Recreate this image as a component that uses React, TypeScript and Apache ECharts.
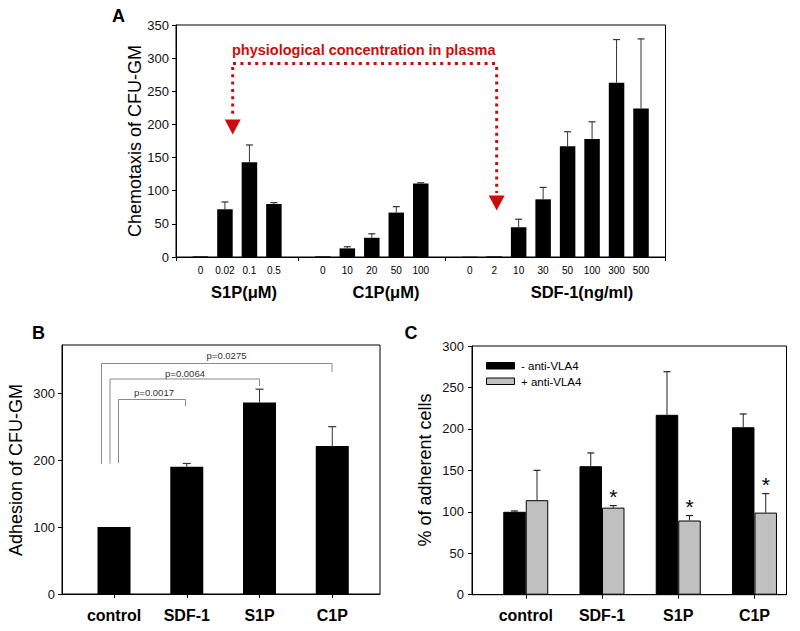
import React, { useEffect, useRef } from "react";
import * as echarts from "echarts";

// ---------- Panel A: chemotaxis ----------
const s1pLabels = ["0", "0.02", "0.1", "0.5"];
const s1pValues = [1, 72, 143, 80];
const s1pErrTop = [1, 83, 169, 82];
const c1pLabels = ["0", "10", "20", "50", "100"];
const c1pValues = [1, 13, 29, 67, 111];
const c1pErrTop = [1, 15.5, 35, 76, 112];
const sdfLabels = ["0", "2", "10", "30", "50", "100", "300", "500"];
const sdfValues = [0.5, 1, 45, 87, 167, 178, 263, 224];
const sdfErrTop = [0.5, 1, 57, 105, 189, 204, 328, 329];
const groupNames = ["S1P(\u03bcM)", "C1P(\u03bcM)", "SDF-1(ng/ml)"];
const chemoTicks = [0, 50, 100, 150, 200, 250, 300, 350];
const annotationText = "physiological concentration in plasma";

// ---------- Panel B: adhesion ----------
const adhesionCats = ["control", "SDF-1", "S1P", "C1P"];
const adhesionValues = [100, 190, 286, 221];
const adhesionErrTop = [100, 195, 306, 250];
const adhesionTicks = [0, 100, 200, 300];
const pLabels = ["p=0.0017", "p=0.0064", "p=0.0275"];

// ---------- Panel C: anti-VLA4 ----------
const vlaCats = ["control", "SDF-1", "S1P", "C1P"];
const minusVla = [100, 155, 217, 202];
const minusVlaErrTop = [101, 171, 269, 218];
const plusVla = [114, 105, 89.5, 99];
const plusVlaErrTop = [150, 107.5, 95.5, 122];
const plusVlaSig = [0, 1, 1, 1];
const vlaTicks = [0, 50, 100, 150, 200, 250, 300];
const legendNames = ["- anti-VLA4", "+ anti-VLA4"];

const FONT = "'Liberation Sans', Arial, Helvetica, sans-serif";
const RED = "#cc0c0c";

// build panel A positions (1-based slots with one empty slot between groups)
const groupsA = [
  { labels: s1pLabels, values: s1pValues, err: s1pErrTop },
  { labels: c1pLabels, values: c1pValues, err: c1pErrTop },
  { labels: sdfLabels, values: sdfValues, err: sdfErrTop },
];
const chemoRows: { pos: number; label: string; value: number; err: number }[] = [];
const gapTicks: number[] = [0];
let slot = 1;
groupsA.forEach((g, gi) => {
  g.labels.forEach((l, i) => {
    chemoRows.push({ pos: slot, label: l, value: g.values[i], err: g.err[i] });
    slot++;
  });
  if (gi < groupsA.length - 1) {
    gapTicks.push(slot);
    slot++;
  }
});
const lastSlot = slot; // right edge
gapTicks.push(lastSlot);
const chemoLabelMap: Record<number, string> = {};
chemoRows.forEach((r) => (chemoLabelMap[r.pos] = r.label));

function errorRenderer(offset: number, cap: number, color: string) {
  return (params: any, api: any) => {
    const x = api.value(0);
    const v = api.value(1);
    const e = api.value(2);
    const star = api.value(3);
    const base = api.coord([x, v]);
    const top = api.coord([x, e]);
    const cx = base[0] + offset;
    const children: any[] = [];
    if (e > v) {
      children.push({
        type: "line",
        shape: { x1: cx, y1: base[1], x2: cx, y2: top[1] },
        style: { stroke: color, lineWidth: 1 },
      });
      children.push({
        type: "line",
        shape: { x1: cx - cap / 2, y1: top[1], x2: cx + cap / 2, y2: top[1] },
        style: { stroke: color, lineWidth: 1.2 },
      });
    }
    if (star) {
      children.push({
        type: "text",
        x: cx,
        y: top[1] - 9,
        style: {
          text: "*",
          fontSize: 21,
          fontFamily: FONT,
          fill: "#000",
          align: "center",
          verticalAlign: "middle",
        },
      });
    }
    return { type: "group", children };
  };
}

const axisLineStyle = { lineStyle: { color: "#000", width: 1 } };
const tickStyle = { show: true, inside: false, length: 4, lineStyle: { color: "#000", width: 1 } };

function buildOption(): any {
  const posB = adhesionCats.map((_, i) => i + 1);
  const posC = vlaCats.map((_, i) => i + 1);

  // bracket geometry for panel B (annotation)
  const brackets = [
    { y: 399.5, x1: 118.5, x2: 185.5, yl: 463, yr: 406, lx: 154, ly: 392.5 },
    { y: 379, x1: 110, x2: 259.5, yl: 463.5, yr: 386, lx: 185, ly: 373 },
    { y: 363.5, x1: 101.5, x2: 332, yl: 464, yr: 372, lx: 226.5, ly: 355.5 },
  ];
  const bracketGraphics: any[] = [];
  brackets.forEach((b, i) => {
    bracketGraphics.push({
      type: "polyline",
      shape: { points: [[b.x1, b.yl], [b.x1, b.y], [b.x2, b.y], [b.x2, b.yr]] },
      style: { stroke: "#8a8a8a", lineWidth: 1, fill: null },
      silent: true,
    });
    bracketGraphics.push({
      type: "text",
      x: b.lx,
      y: b.ly,
      style: {
        text: pLabels[i],
        fontSize: 9.5,
        fontFamily: FONT,
        fill: "#333",
        align: "center",
        verticalAlign: "middle",
      },
    });
  });

  const txt = (text: string, x: number, y: number, size: number, bold: boolean, extra: any = {}) => ({
    type: "text",
    x,
    y,
    ...extra,
    style: {
      text,
      fontSize: size,
      fontWeight: bold ? "bold" : "normal",
      fontFamily: FONT,
      fill: extra.fill || "#000",
      align: "center",
      verticalAlign: "middle",
    },
  });

  const graphic: any[] = [
    txt("A", 118.5, 15.5, 18, true),
    txt("B", 38.5, 333, 18, true),
    txt("C", 411, 333, 18, true),
    txt("Chemotaxis of CFU-GM", 135, 141, 18, false, { rotation: Math.PI / 2 }),
    txt("Adhesion of CFU-GM", 15.5, 470, 18, false, { rotation: Math.PI / 2 }),
    txt("% of adherent cells", 425, 470, 18, false, { rotation: Math.PI / 2 }),
    txt(groupNames[0], 244, 291.5, 16.5, true),
    txt(groupNames[1], 386, 291.5, 16.5, true),
    txt(groupNames[2], 582, 291.5, 16.5, true),
    // red annotation
    {
      type: "text",
      x: 232,
      y: 50,
      style: {
        text: annotationText,
        fontSize: 14.5,
        fontWeight: "bold",
        fontFamily: FONT,
        fill: RED,
        align: "left",
        verticalAlign: "middle",
      },
    },
    {
      type: "line",
      shape: { x1: 233, y1: 63.5, x2: 498, y2: 63.5 },
      style: { stroke: RED, lineWidth: 3, lineDash: [3, 4.4] },
    },
    {
      type: "line",
      shape: { x1: 232.7, y1: 67, x2: 232.7, y2: 117 },
      style: { stroke: RED, lineWidth: 3, lineDash: [3, 4.3] },
    },
    {
      type: "line",
      shape: { x1: 496.7, y1: 67, x2: 496.7, y2: 193 },
      style: { stroke: RED, lineWidth: 3, lineDash: [3, 4.3] },
    },
    {
      type: "polygon",
      shape: { points: [[224.7, 119.5], [240.7, 119.5], [232.7, 134.5]] },
      style: { fill: RED },
    },
    {
      type: "polygon",
      shape: { points: [[488.7, 195.5], [504.7, 195.5], [496.7, 210.5]] },
      style: { fill: RED },
    },
    // legend panel C
    {
      type: "rect",
      shape: { x: 486.5, y: 362.5, width: 28, height: 6.5 },
      style: { fill: "#000", stroke: "#000", lineWidth: 1 },
    },
    {
      type: "rect",
      shape: { x: 486.5, y: 378, width: 28, height: 6.5 },
      style: { fill: "#c0c0c0", stroke: "#000", lineWidth: 1 },
    },
    {
      type: "text",
      x: 521,
      y: 366,
      style: { text: legendNames[0], fontSize: 11.5, fontFamily: FONT, fill: "#000", align: "left", verticalAlign: "middle" },
    },
    {
      type: "text",
      x: 521,
      y: 381.5,
      style: { text: legendNames[1], fontSize: 11.5, fontFamily: FONT, fill: "#000", align: "left", verticalAlign: "middle" },
    },
    ...bracketGraphics,
  ];

  return {
    animation: false,
    backgroundColor: "#fff",
    textStyle: { fontFamily: FONT },
    grid: [
      { left: 176, top: 25, width: 489.5, height: 232, show: true, borderColor: "#000", borderWidth: 1 },
      { left: 62, top: 345, width: 318, height: 249, show: true, borderColor: "#000", borderWidth: 1 },
      { left: 472, top: 346, width: 314.5, height: 248.7, show: true, borderColor: "#000", borderWidth: 1 },
    ],
    xAxis: [
      {
        gridIndex: 0,
        type: "value",
        min: 0,
        max: lastSlot,
        splitLine: { show: false },
        axisLine: axisLineStyle,
        axisTick: { ...tickStyle, customValues: gapTicks },
        axisLabel: {
          customValues: chemoRows.map((r) => r.pos),
          formatter: (v: number) => chemoLabelMap[v] ?? "",
          fontSize: 10,
          color: "#000",
          margin: 8,
          fontFamily: FONT,
        },
      },
      {
        gridIndex: 1,
        type: "value",
        min: 0.285,
        max: 4.656,
        splitLine: { show: false },
        axisLine: axisLineStyle,
        axisTick: { ...tickStyle, customValues: posB },
        axisLabel: {
          customValues: posB,
          formatter: (v: number) => adhesionCats[v - 1] ?? "",
          fontSize: 16,
          fontWeight: "bold",
          color: "#000",
          margin: 13,
          fontFamily: FONT,
        },
      },
      {
        gridIndex: 2,
        type: "value",
        min: 0.295,
        max: 4.42,
        splitLine: { show: false },
        axisLine: axisLineStyle,
        axisTick: { ...tickStyle, customValues: posC },
        axisLabel: {
          customValues: posC,
          formatter: (v: number) => vlaCats[v - 1] ?? "",
          fontSize: 16,
          fontWeight: "bold",
          color: "#000",
          margin: 13,
          fontFamily: FONT,
        },
      },
    ],
    yAxis: [
      {
        gridIndex: 0,
        type: "value",
        min: 0,
        max: 350,
        interval: 50,
        splitLine: { show: false },
        axisLine: { show: true, ...axisLineStyle },
        axisTick: { ...tickStyle, customValues: chemoTicks },
        axisLabel: { customValues: chemoTicks, fontSize: 13, color: "#111", margin: 7, fontFamily: FONT },
      },
      {
        gridIndex: 1,
        type: "value",
        min: 0,
        max: 372,
        splitLine: { show: false },
        axisLine: { show: true, ...axisLineStyle },
        axisTick: { ...tickStyle, customValues: adhesionTicks },
        axisLabel: { customValues: adhesionTicks, fontSize: 13, color: "#111", margin: 7, fontFamily: FONT },
      },
      {
        gridIndex: 2,
        type: "value",
        min: 0,
        max: 300,
        interval: 50,
        splitLine: { show: false },
        axisLine: { show: true, ...axisLineStyle },
        axisTick: { ...tickStyle, customValues: vlaTicks },
        axisLabel: { customValues: vlaTicks, fontSize: 13, color: "#111", margin: 8, fontFamily: FONT },
      },
    ],
    series: [
      {
        type: "bar",
        xAxisIndex: 0,
        yAxisIndex: 0,
        barWidth: 15.5,
        itemStyle: { color: "#000" },
        data: chemoRows.map((r) => [r.pos, r.value]),
      },
      {
        type: "custom",
        xAxisIndex: 0,
        yAxisIndex: 0,
        z: 5,
        renderItem: errorRenderer(0, 7, "#333"),
        data: chemoRows.map((r) => [r.pos, r.value, r.err, 0]),
      },
      {
        type: "bar",
        xAxisIndex: 1,
        yAxisIndex: 1,
        barWidth: 33,
        itemStyle: { color: "#000" },
        data: posB.map((p, i) => [p, adhesionValues[i]]),
      },
      {
        type: "custom",
        xAxisIndex: 1,
        yAxisIndex: 1,
        z: 5,
        renderItem: errorRenderer(0, 8, "#333"),
        data: posB.map((p, i) => [p, adhesionValues[i], adhesionErrTop[i], 0]),
      },
      {
        type: "bar",
        name: legendNames[0],
        xAxisIndex: 2,
        yAxisIndex: 2,
        barWidth: 22.5,
        barGap: "0%",
        itemStyle: { color: "#000", borderColor: "#000", borderWidth: 1 },
        data: posC.map((p, i) => [p, minusVla[i]]),
      },
      {
        type: "bar",
        name: legendNames[1],
        xAxisIndex: 2,
        yAxisIndex: 2,
        barWidth: 22.5,
        barGap: "0%",
        itemStyle: { color: "#c0c0c0", borderColor: "#000", borderWidth: 1 },
        data: posC.map((p, i) => [p, plusVla[i]]),
      },
      {
        type: "custom",
        xAxisIndex: 2,
        yAxisIndex: 2,
        z: 5,
        renderItem: errorRenderer(-11.25, 7, "#222"),
        data: posC.map((p, i) => [p, minusVla[i], minusVlaErrTop[i], 0]),
      },
      {
        type: "custom",
        xAxisIndex: 2,
        yAxisIndex: 2,
        z: 5,
        renderItem: errorRenderer(11.25, 7, "#222"),
        data: posC.map((p, i) => [p, plusVla[i], plusVlaErrTop[i], plusVlaSig[i]]),
      },
    ],
    graphic,
  };
}

export default function App() {
  const ref = useRef<HTMLDivElement>(null);
  useEffect(() => {
    if (!ref.current) return;
    const chart = echarts.init(ref.current, undefined, { renderer: "svg" });
    chart.setOption(buildOption());
    return () => chart.dispose();
  }, []);
  return (
    <div
      ref={ref}
      style={{ position: "absolute", left: 0, top: 0, width: 800, height: 631, background: "#fff" }}
    />
  );
}
